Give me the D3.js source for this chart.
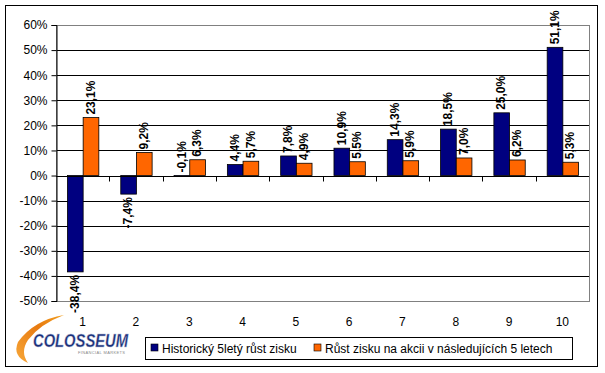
<!DOCTYPE html>
<html><head><meta charset="utf-8">
<script src="https://cdn.jsdelivr.net/npm/d3@7"></script>
<style>body{margin:0;background:#fff}svg{display:block}</style>
</head><body>
<script>
const categories = ["1","2","3","4","5","6","7","8","9","10"];
const seriesNames = ["Historický 5letý růst zisku","Růst zisku na akcii v následujících 5 letech"];
const historical = [-38.4,-7.4,-0.1,4.4,7.8,10.9,14.3,18.5,25.0,51.1];
const future = [23.1,9.2,6.3,5.7,4.9,5.5,5.9,7.0,6.2,5.3];
const yTicks = [-50,-40,-30,-20,-10,0,10,20,30,40,50,60];
const colors = ["#000080","#FF6600"];

const W=605,H=373;
const svg=d3.select("body").append("svg").attr("width",W).attr("height",H);
svg.append("rect").attr("x",5.5).attr("y",5.5).attr("width",592).attr("height",361).attr("fill","#fff").attr("stroke","#000");

const L=56,R=589,T=25,B=301;
const y=d3.scaleLinear().domain([-50,60]).range([B,T]);
const x0=d3.scaleBand().domain(categories).range([L,R]).padding(0);
const bw=x0.bandwidth();
const barW=bw/3.4;
const x1=d3.scaleBand().domain([0,1]).range([(bw-2*barW)/2,(bw+2*barW)/2]).padding(0);

// gridlines
svg.append("g").selectAll("line").data(yTicks.filter(d=>d!==60)).join("line")
 .attr("x1",L).attr("x2",R).attr("y1",d=>Math.round(y(d))+0.5).attr("y2",d=>Math.round(y(d))+0.5)
 .attr("stroke","#000").attr("stroke-width",1);
// plot border (grey)
svg.append("rect").attr("x",L+0.5).attr("y",Math.round(y(60))+0.5).attr("width",R-L).attr("height",Math.round(y(-50))-Math.round(y(60)))
 .attr("fill","none").attr("stroke","#808080");

// y axis
const ya=svg.append("g").attr("transform",`translate(${L+0.5},0)`)
 .call(d3.axisLeft(y).tickValues(yTicks).tickSize(5).tickFormat(d=>d+"%"));
ya.selectAll("text").attr("font-family","Liberation Sans, Arial, sans-serif").attr("font-size",12).attr("fill","#000").attr("x",-9);
ya.select(".domain").attr("stroke","#000");
ya.selectAll(".tick line").attr("stroke","#000");

// bars
const data=categories.map((c,i)=>({c,vals:[historical[i],future[i]]}));
const g=svg.append("g").selectAll("g").data(data).join("g").attr("transform",d=>`translate(${x0(d.c)},0)`);
g.selectAll("rect").data(d=>d.vals.map((v,k)=>({v,k}))).join("rect")
 .attr("x",d=>x1(d.k)+0.5).attr("width",barW)
 .attr("y",d=>Math.min(y(d.v),y(0))).attr("height",d=>Math.max(1,Math.abs(y(d.v)-y(0))))
 .attr("fill",d=>colors[d.k]).attr("stroke","#000").attr("stroke-width",0.8);

// labels (tiny negative values are placed above the axis, as in the reference)
const above=v=>v>-1;
g.selectAll("text").data(d=>d.vals.map((v,k)=>({v,k}))).join("text")
 .attr("transform",d=>{const cx=x1(d.k)+barW/2; const yy=above(d.v)?y(Math.max(d.v,0))-3:y(d.v)+3; return `translate(${cx},${yy}) rotate(-90)`;})
 .attr("text-anchor",d=>above(d.v)?"start":"end").attr("dy","0.35em")
 .attr("font-family","Liberation Sans, Arial, sans-serif").attr("font-size",12).attr("font-weight","bold").attr("fill","#000")
 .text(d=>d.v.toFixed(1).replace(".",",")+"%");

// zero axis with category ticks
const y0=Math.round(y(0))+0.5;
svg.append("line").attr("x1",L).attr("x2",R).attr("y1",y0).attr("y2",y0).attr("stroke","#000");
svg.append("g").selectAll("line").data(categories.slice(1)).join("line")
 .attr("x1",d=>Math.round(x0(d))+0.5).attr("x2",d=>Math.round(x0(d))+0.5).attr("y1",y0).attr("y2",y0+5).attr("stroke","#000");

// category labels
const xa=svg.append("g").attr("transform",`translate(0,${B})`).call(d3.axisBottom(x0).tickSize(0).tickPadding(16));
xa.select(".domain").remove();
xa.selectAll("text").attr("font-family","Liberation Sans, Arial, sans-serif").attr("font-size",12).attr("fill","#000");

// legend
const lg=svg.append("g");
lg.append("rect").attr("x",145.5).attr("y",337.5).attr("width",427).attr("height",22).attr("fill","#fff").attr("stroke","#000");
const lx=[151,314];
seriesNames.forEach((n,k)=>{
 lg.append("rect").attr("x",lx[k]).attr("y",344).attr("width",7).attr("height",7).attr("fill",colors[k]).attr("stroke","#000").attr("stroke-width",0.6);
 lg.append("text").attr("x",lx[k]+11).attr("y",353).attr("font-family","Liberation Sans, Arial, sans-serif").attr("font-size",12).attr("fill","#000").text(n);
});

// logo
const defs=svg.append("defs");
const gr=defs.append("linearGradient").attr("id","sw").attr("x1","0").attr("y1","1").attr("x2","1").attr("y2","0");
gr.append("stop").attr("offset","0").attr("stop-color","#f7a83a");
gr.append("stop").attr("offset","0.6").attr("stop-color","#e87a10");
gr.append("stop").attr("offset","1").attr("stop-color","#f2a020");
svg.append("path").attr("d","M64,315 Q34,320 18,342 Q12,356 28,363 Q20,352 28,340 Q40,324 64,315 Z").attr("fill","url(#sw)");
svg.append("text").attr("x",33).attr("y",347).attr("font-family","Liberation Sans, Arial, sans-serif").attr("font-size",18).attr("font-weight","bold").attr("font-style","italic")
 .attr("textLength",95).attr("lengthAdjust","spacingAndGlyphs").attr("fill","#1a2f7a").attr("stroke","#b8c0d8").attr("stroke-width",0.4).text("COLOSSEUM");
svg.append("text").attr("x",78).attr("y",354).attr("font-family","Liberation Sans, Arial, sans-serif").attr("font-size",4).attr("fill","#888")
 .attr("textLength",47).text("FINANCIAL MARKETS");
</script>
</body></html>
